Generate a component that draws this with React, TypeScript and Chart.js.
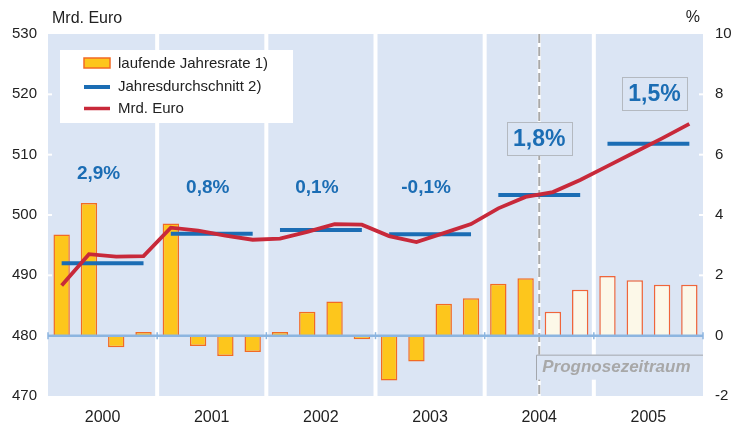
import React, { useEffect, useRef } from 'react';
import { Chart, registerables } from 'chart.js';

Chart.register(...registerables);

// ---- data ----
const years = ['2000', '2001', '2002', '2003', '2004', '2005'];
const quarterLabels = years.flatMap((y) => ['Q1', 'Q2', 'Q3', 'Q4'].map((q) => `${y} ${q}`));
// laufende Jahresrate (%), right axis
const quarterlyRate = [
  3.35, 4.4, -0.38, 0.12,
  3.72, -0.34, -0.67, -0.54,
  0.12, 0.79, 1.13, -0.12,
  -1.49, -0.86, 1.06, 1.24,
  1.72, 1.9, 0.79, 1.52,
  1.98, 1.84, 1.69, 1.69,
];
// Mrd. Euro, left axis
const volume = [
  488.3, 493.5, 493.1, 493.2,
  497.9, 497.4, 496.6, 495.9,
  496.1, 497.2, 498.5, 498.4,
  496.5, 495.5, 497.0, 498.5,
  501.1, 503.0, 503.8, 505.8,
  508.1, 510.4, 512.7, 515.1,
];
// Jahresdurchschnitt (Mrd. Euro)
const annualAverage = [492.0, 496.9, 497.5, 496.8, 503.3, 511.8];
const annualGrowthLabels = ['2,9%', '0,8%', '0,1%', '-0,1%', '1,8%', '1,5%'];
const forecastStartIndex = 18;
const leftTicks = [470, 480, 490, 500, 510, 520, 530];
const rightTicks = [-2, 0, 2, 4, 6, 8, 10];
const legendLabels = ['laufende Jahresrate 1)', 'Jahresdurchschnitt 2)', 'Mrd. Euro'];
const forecastLabel = 'Prognosezeitraum';

// ---- styles ----
const FONT = '"Liberation Sans", Arial, Helvetica, sans-serif';
const BG = '#dbe5f4';
const BAR_FILL = '#fdc61c';
const BAR_BORDER = '#f26a24';
const FC_FILL = '#fcf8e8';
const FC_BORDER = '#f0653a';
const RED = '#c8293a';
const BLUE = '#1b6db4';
const ZERO = '#8cb5e0';
const TEXT = '#222222';

const avgPerQuarter = quarterLabels.map((_, i) => annualAverage[Math.floor(i / 4)]);

const decorPlugin = {
  id: 'decor',
  beforeDraw(chart: any) {
    const { ctx, chartArea: ca, scales } = chart;
    const x = scales.x;
    ctx.save();
    ctx.fillStyle = BG;
    ctx.fillRect(ca.left, ca.top, ca.right - ca.left, ca.bottom - ca.top);
    // year separators
    ctx.strokeStyle = '#ffffff';
    ctx.lineWidth = 4;
    for (let k = 1; k < years.length; k++) {
      const sx = (x.getPixelForValue(4 * k - 1) + x.getPixelForValue(4 * k)) / 2;
      ctx.beginPath();
      ctx.moveTo(sx, ca.top);
      ctx.lineTo(sx, ca.bottom);
      ctx.stroke();
    }
    // small white tick marks inside the plot edges
    ctx.lineWidth = 2;
    leftTicks.slice(1, -1).forEach((v) => {
      const py = scales.yL.getPixelForValue(v);
      ctx.beginPath();
      ctx.moveTo(ca.left, py);
      ctx.lineTo(ca.left + 4, py);
      ctx.stroke();
    });
    rightTicks.slice(1, -1).forEach((v) => {
      const py = scales.yR.getPixelForValue(v);
      ctx.beginPath();
      ctx.moveTo(ca.right - 4, py);
      ctx.lineTo(ca.right, py);
      ctx.stroke();
    });
    ctx.restore();
  },
  beforeDatasetsDraw(chart: any) {
    const { ctx, chartArea: ca, scales } = chart;
    const x = scales.x;
    const fx = (x.getPixelForValue(forecastStartIndex - 1) + x.getPixelForValue(forecastStartIndex)) / 2;
    ctx.save();
    ctx.strokeStyle = '#ffffff';
    ctx.lineWidth = 3;
    ctx.beginPath();
    ctx.moveTo(fx, ca.top);
    ctx.lineTo(fx, ca.bottom);
    ctx.stroke();
    ctx.strokeStyle = '#a9a9a9';
    ctx.lineWidth = 2;
    ctx.setLineDash([9, 4]);
    ctx.beginPath();
    ctx.moveTo(fx, ca.top);
    ctx.lineTo(fx, ca.bottom);
    ctx.stroke();
    ctx.restore();
  },
  afterDatasetsDraw(chart: any) {
    const { ctx, chartArea: ca, scales } = chart;
    const x = scales.x;
    const yR = scales.yR;
    const y0 = yR.getPixelForValue(0);
    ctx.save();
    // zero line
    ctx.strokeStyle = ZERO;
    ctx.lineWidth = 2.5;
    ctx.beginPath();
    ctx.moveTo(ca.left, y0);
    ctx.lineTo(ca.right, y0);
    ctx.stroke();
    ctx.lineWidth = 1.5;
    const tickXs = [ca.left, ca.right];
    for (let k = 1; k < years.length; k++) {
      tickXs.push((x.getPixelForValue(4 * k - 1) + x.getPixelForValue(4 * k)) / 2);
    }
    tickXs.forEach((tx) => {
      ctx.beginPath();
      ctx.moveTo(tx, y0 - 3.5);
      ctx.lineTo(tx, y0 + 3.5);
      ctx.stroke();
    });

    // annual growth labels
    const yearCenter = (k: number) => (x.getPixelForValue(4 * k + 1) + x.getPixelForValue(4 * k + 2)) / 2;
    ctx.fillStyle = BLUE;
    ctx.textAlign = 'center';
    ctx.textBaseline = 'middle';
    ctx.font = `bold 19px ${FONT}`;
    for (let k = 0; k < 4; k++) {
      const ty = k === 0 ? ca.top + 140 : ca.top + 154;
      ctx.fillText(annualGrowthLabels[k], yearCenter(k) - 4, ty);
    }
    // boxed labels for forecast years
    const fx = (x.getPixelForValue(forecastStartIndex - 1) + x.getPixelForValue(forecastStartIndex)) / 2;
    const boxes = [
      { cx: fx, cy: ca.top + 104.5, label: annualGrowthLabels[4] },
      { cx: yearCenter(5) + 6, cy: ca.top + 59.5, label: annualGrowthLabels[5] },
    ];
    boxes.forEach((b) => {
      ctx.fillStyle = BG;
      ctx.fillRect(b.cx - 32.5, b.cy - 16.5, 65, 33);
      ctx.strokeStyle = '#b4b9c0';
      ctx.lineWidth = 1;
      ctx.strokeRect(Math.round(b.cx - 32.5) + 0.5, Math.round(b.cy - 16.5) + 0.5, 65, 33);
      ctx.fillStyle = BLUE;
      ctx.font = `bold 23px ${FONT}`;
      ctx.fillText(b.label, b.cx, b.cy + 1);
    });

    // Prognosezeitraum box
    const px0 = fx - 3;
    ctx.fillStyle = BG;
    ctx.fillRect(px0, y0 + 19, ca.right - px0, 25);
    ctx.strokeStyle = '#a3a7ad';
    ctx.lineWidth = 1;
    ctx.beginPath();
    ctx.moveTo(Math.round(px0) + 0.5, y0 + 44.5);
    ctx.lineTo(Math.round(px0) + 0.5, y0 + 19.5);
    ctx.lineTo(ca.right, y0 + 19.5);
    ctx.stroke();
    ctx.fillStyle = '#a8a8a8';
    ctx.textAlign = 'left';
    ctx.font = `italic bold 17px ${FONT}`;
    ctx.fillText(forecastLabel, px0 + 6, y0 + 32);

    // legend
    const lx = 60, ly = 50;
    ctx.fillStyle = '#ffffff';
    ctx.fillRect(lx, ly, 233, 73);
    ctx.fillStyle = BAR_FILL;
    ctx.fillRect(84, 58, 26, 10);
    ctx.strokeStyle = BAR_BORDER;
    ctx.lineWidth = 1.5;
    ctx.strokeRect(84, 58, 26, 10);
    ctx.strokeStyle = BLUE;
    ctx.lineWidth = 4;
    ctx.beginPath();
    ctx.moveTo(84, 87);
    ctx.lineTo(110, 87);
    ctx.stroke();
    ctx.strokeStyle = RED;
    ctx.lineWidth = 3.5;
    ctx.beginPath();
    ctx.moveTo(84, 108.5);
    ctx.lineTo(110, 108.5);
    ctx.stroke();
    ctx.fillStyle = TEXT;
    ctx.font = `15px ${FONT}`;
    ctx.textBaseline = 'middle';
    ctx.fillText(legendLabels[0], 118, 64);
    ctx.fillText(legendLabels[1], 118, 87);
    ctx.fillText(legendLabels[2], 118, 109);

    // axis titles
    ctx.font = `16px ${FONT}`;
    ctx.fillText('Mrd. Euro', 52, 19);
    ctx.textAlign = 'right';
    ctx.fillText('%', 700, 18);
    ctx.restore();
  },
};

export default function App() {
  const ref = useRef<HTMLCanvasElement | null>(null);
  useEffect(() => {
    document.body.style.margin = '0';
    const canvas = ref.current;
    if (!canvas) return;
    const chart = new Chart(canvas, {
      type: 'bar',
      data: {
        labels: quarterLabels,
        datasets: [
          {
            type: 'line',
            label: legendLabels[2],
            data: volume,
            yAxisID: 'yL',
            borderColor: RED,
            borderWidth: 3.8,
            pointRadius: 0,
            tension: 0,
            order: 1,
          } as any,
          {
            type: 'line',
            label: legendLabels[1],
            data: avgPerQuarter,
            yAxisID: 'yL',
            borderColor: BLUE,
            borderWidth: 4,
            borderCapStyle: 'butt',
            pointRadius: 0,
            tension: 0,
            order: 2,
            segment: {
              borderColor: (c: any) => (c.p0DataIndex % 4 === 3 ? 'rgba(0,0,0,0)' : BLUE),
            },
          } as any,
          {
            type: 'bar',
            label: legendLabels[0],
            data: quarterlyRate,
            yAxisID: 'yR',
            backgroundColor: quarterlyRate.map((_, i) => (i >= forecastStartIndex ? FC_FILL : BAR_FILL)),
            borderColor: quarterlyRate.map((_, i) => (i >= forecastStartIndex ? FC_BORDER : BAR_BORDER)),
            borderWidth: 1.5,
            borderSkipped: 'start',
            categoryPercentage: 1,
            barPercentage: 0.6,
            order: 3,
          } as any,
        ],
      },
      options: {
        responsive: false,
        animation: false,
        layout: { padding: { top: 34, left: 0, right: 0, bottom: 0 } },
        plugins: { legend: { display: false }, tooltip: { enabled: false } },
        scales: {
          x: {
            type: 'category',
            offset: true,
            grid: { display: false, drawTicks: false },
            border: { display: false },
            ticks: {
              autoSkip: false,
              maxRotation: 0,
              minRotation: 0,
              labelOffset: 13.6,
              padding: 11.5,
              color: TEXT,
              font: { family: FONT, size: 16 },
              callback: (_v: any, i: number) => (i % 4 === 1 ? years[Math.floor(i / 4)] : ''),
            },
            afterFit: (s: any) => {
              s.height = 27;
            },
          },
          yL: {
            type: 'linear',
            position: 'left',
            min: 470,
            max: 530,
            grid: { display: false, drawTicks: false },
            border: { display: false },
            ticks: {
              stepSize: 10,
              padding: 11,
              color: TEXT,
              font: { family: FONT, size: 15 },
            },
            afterFit: (s: any) => {
              s.width = 48;
            },
          },
          yR: {
            type: 'linear',
            position: 'right',
            min: -2,
            max: 10,
            grid: { display: false, drawTicks: false },
            border: { display: false },
            ticks: {
              stepSize: 2,
              padding: 12,
              color: TEXT,
              font: { family: FONT, size: 15 },
            },
            afterFit: (s: any) => {
              s.width = 37;
            },
          },
        },
      } as any,
      plugins: [decorPlugin],
    });
    return () => chart.destroy();
  }, []);
  return (
    <div style={{ width: 740, height: 423, background: '#ffffff' }}>
      <canvas ref={ref} width={740} height={423} style={{ display: 'block' }} />
    </div>
  );
}
